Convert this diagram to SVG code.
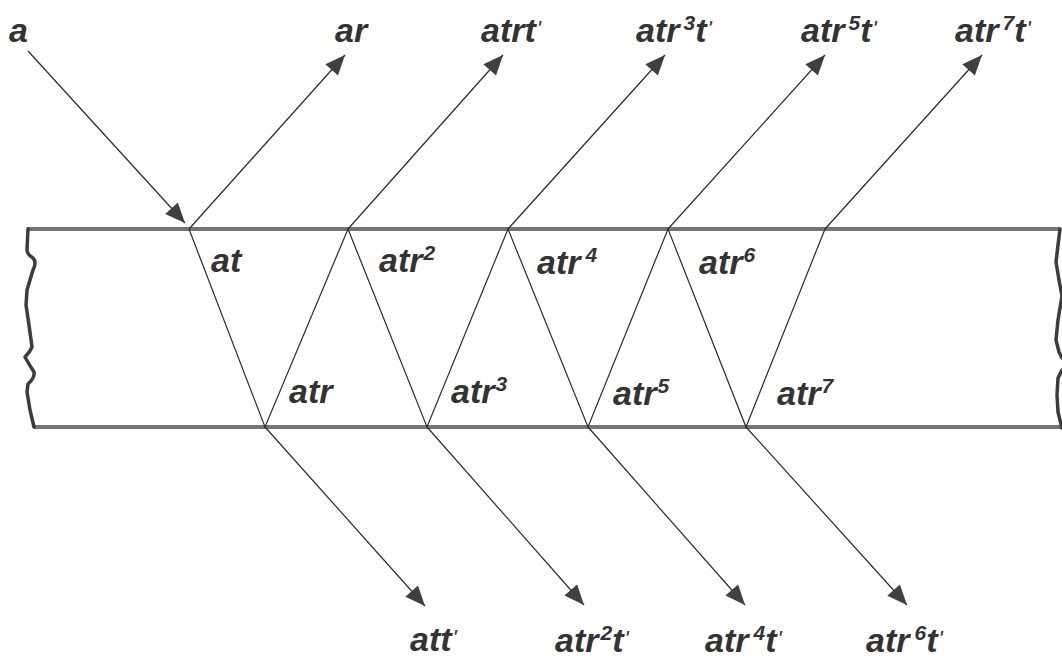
<svg xmlns="http://www.w3.org/2000/svg" width="1062" height="666" viewBox="0 0 1062 666">
  <style>
    .lbl { font-family: "Liberation Sans", Arial, sans-serif; font-style: italic; font-weight: bold; font-size: 34px; fill: #333333; }
    .sup { font-size: 21px; }
    .pr { font-size: 22px; font-weight: normal; }
    .ray { stroke: #2a2a2a; stroke-width: 1.2; fill: none; }
    .arr { marker-end: url(#ah); }
    .slab { stroke: #747474; stroke-width: 4; fill: none; }
    .edge { stroke: #3c3c3c; stroke-width: 3.5; fill: none; stroke-linejoin: round; stroke-linecap: round; }
  </style>
  <defs>
    <marker id="ah" markerUnits="userSpaceOnUse" markerWidth="24" markerHeight="20" viewBox="-22 -10 24 20" refX="0" refY="0" orient="auto">
      <path d="M0,0 L-20,-8.5 L-20,8.5 z" fill="#404040"/>
    </marker>
  </defs>

  <g id="slab">
    <line class="slab" x1="27" y1="229" x2="1060" y2="229"/>
    <line class="slab" x1="34" y1="427" x2="1062" y2="427"/>
    <path class="edge" d="M28,229 L27,250 Q27,254 33,258 Q37,262 33,270 L27,290 L26,305 L29,325 L32,347 Q30,352 25,357 Q30,366 34,372 Q35,378 28,384 L27,392 L30,410 L34,427"/>
    <path class="edge" d="M1060,229 L1058,245 L1056,262 L1059,280 L1062,296 L1058,320 L1056,340 L1059,352 L1062,358"/>
    <path class="edge" d="M1062,370 L1058,378 L1057,395 L1058,412 L1062,428"/>
  </g>

  <g id="connectors">
    <line class="ray arr" x1="28" y1="51" x2="185" y2="223"/>
    <line class="ray arr" x1="189" y1="229" x2="345" y2="55"/>
    <line class="ray arr" x1="348" y1="229" x2="503" y2="55"/>
    <line class="ray arr" x1="508" y1="229" x2="665" y2="55"/>
    <line class="ray arr" x1="668" y1="229" x2="825" y2="55"/>
    <line class="ray arr" x1="825" y1="229" x2="982" y2="55"/>
    <polyline class="ray" points="189,229 265,427 348,229 427,427 508,229 588,427 668,229 746,427 825,229"/>
    <line class="ray arr" x1="265" y1="427" x2="425" y2="606"/>
    <line class="ray arr" x1="427" y1="427" x2="584" y2="605"/>
    <line class="ray arr" x1="588" y1="427" x2="745" y2="605"/>
    <line class="ray arr" x1="746" y1="427" x2="907" y2="605"/>
  </g>

  <g id="top-labels">
    <g id="lbl-a"><text class="lbl" x="9" y="42">a</text></g>
    <g id="lbl-ar"><text class="lbl" x="335" y="42">ar</text></g>
    <g id="lbl-atrt"><text class="lbl" x="481" y="42">atrt<tspan class="pr" dx="1" dy="-6">'</tspan></text></g>
    <g id="lbl-atr3t"><text class="lbl" x="636" y="42">atr<tspan class="sup" dx="4" dy="-12">3</tspan><tspan dy="12">t</tspan><tspan class="pr" dx="1" dy="-6">'</tspan></text></g>
    <g id="lbl-atr5t"><text class="lbl" x="801" y="42">atr<tspan class="sup" dx="4" dy="-12">5</tspan><tspan dy="12">t</tspan><tspan class="pr" dx="1" dy="-6">'</tspan></text></g>
    <g id="lbl-atr7t"><text class="lbl" x="955" y="42">atr<tspan class="sup" dx="4" dy="-12">7</tspan><tspan dy="12">t</tspan><tspan class="pr" dx="1" dy="-6">'</tspan></text></g>
  </g>

  <g id="inner-labels">
    <g id="lbl-at"><text class="lbl" x="211" y="272">at</text></g>
    <g id="lbl-atr2"><text class="lbl" x="379" y="272">atr<tspan class="sup" dx="1" dy="-12">2</tspan></text></g>
    <g id="lbl-atr4"><text class="lbl" x="537" y="274">atr<tspan class="sup" dx="5" dy="-12">4</tspan></text></g>
    <g id="lbl-atr6"><text class="lbl" x="699" y="274">atr<tspan class="sup" dx="1" dy="-12">6</tspan></text></g>
    <g id="lbl-atr"><text class="lbl" x="289" y="403">atr</text></g>
    <g id="lbl-atr3"><text class="lbl" x="451" y="403">atr<tspan class="sup" dx="1" dy="-12">3</tspan></text></g>
    <g id="lbl-atr5"><text class="lbl" x="613" y="405">atr<tspan class="sup" dx="1" dy="-12">5</tspan></text></g>
    <g id="lbl-atr7"><text class="lbl" x="777" y="405">atr<tspan class="sup" dx="1" dy="-12">7</tspan></text></g>
  </g>

  <g id="bottom-labels">
    <g id="lbl-att"><text class="lbl" x="410" y="651">att<tspan class="pr" dx="1" dy="-6">'</tspan></text></g>
    <g id="lbl-atr2t"><text class="lbl" x="555" y="652">atr<tspan class="sup" dx="2" dy="-12">2</tspan><tspan dy="12">t</tspan><tspan class="pr" dx="1" dy="-6">'</tspan></text></g>
    <g id="lbl-atr4t"><text class="lbl" x="705" y="652">atr<tspan class="sup" dx="5" dy="-12">4</tspan><tspan dy="12">t</tspan><tspan class="pr" dx="1" dy="-6">'</tspan></text></g>
    <g id="lbl-atr6t"><text class="lbl" x="866" y="652">atr<tspan class="sup" dx="5" dy="-12">6</tspan><tspan dy="12">t</tspan><tspan class="pr" dx="1" dy="-6">'</tspan></text></g>
  </g>
</svg>
